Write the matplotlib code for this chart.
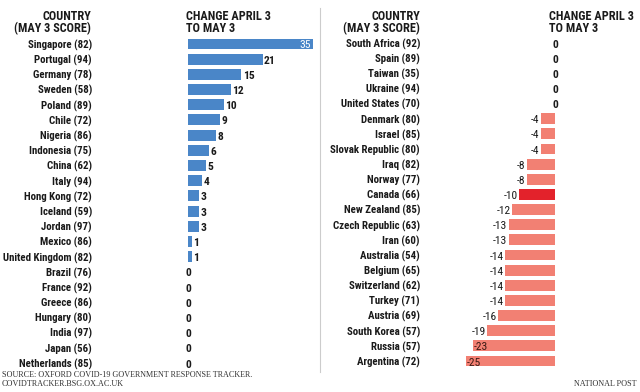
import matplotlib
matplotlib.use("Agg")
import matplotlib.pyplot as plt
from matplotlib import font_manager as fm

left_countries = ["Singapore (82)", "Portugal (94)", "Germany (78)", "Sweden (58)", "Poland (89)",
                  "Chile (72)", "Nigeria (86)", "Indonesia (75)", "China (62)", "Italy (94)",
                  "Hong Kong (72)", "Iceland (59)", "Jordan (97)", "Mexico (86)",
                  "United Kingdom (82)", "Brazil (76)", "France (92)", "Greece (86)",
                  "Hungary (80)", "India (97)", "Japan (56)", "Netherlands (85)"]
left_values = [35, 21, 15, 12, 10, 9, 8, 6, 5, 4, 3, 3, 3, 1, 1, 0, 0, 0, 0, 0, 0, 0]

right_countries = ["South Africa (92)", "Spain (89)", "Taiwan (35)", "Ukraine (94)",
                   "United States (70)", "Denmark (80)", "Israel (85)", "Slovak Republic (80)",
                   "Iraq (82)", "Norway (77)", "Canada (66)", "New Zealand (85)",
                   "Czech Republic (63)", "Iran (60)", "Australia (54)", "Belgium (65)",
                   "Switzerland (62)", "Turkey (71)", "Austria (69)", "South Korea (57)",
                   "Russia (57)", "Argentina (72)"]
right_values = [0, 0, 0, 0, 0, -4, -4, -4, -8, -8, -10, -12, -13, -13, -14, -14, -14, -14,
                -16, -19, -23, -25]
highlight = "Canada (66)"

header_country = "COUNTRY\n(MAY 3 SCORE)"
header_change = "CHANGE APRIL 3\nTO MAY 3"
source_text = "SOURCE: OXFORD COVID-19 GOVERNMENT RESPONSE TRACKER.\nCOVIDTRACKER.BSG.OX.AC.UK"
credit_text = "NATIONAL POST"

names = {f.name for f in fm.fontManager.ttflist}
cond = next((n for n in ["Roboto Condensed", "Barlow Semi Condensed",
                         "Barlow Condensed", "Asap Condensed"] if n in names), "DejaVu Sans")
FAM = [cond, "DejaVu Sans"]
SERIF = ["Liberation Serif", "DejaVu Serif"]

W, H = 640, 392
fig = plt.figure(figsize=(6.4, 3.92), dpi=100)
fig.patch.set_facecolor("white")
renderer = fig.canvas.get_renderer()

def fit_size(text, target_px, family, weight="normal", base=10.0):
    t = fig.text(0, 0, text, fontsize=base, family=family, fontweight=weight)
    w = t.get_window_extent(renderer=renderer).width
    t.remove()
    return base * target_px / w

LFS = fit_size("United Kingdom (82)", 90, FAM, "bold")
HFS = fit_size("CHANGE APRIL 3", 84, FAM, "bold")
SFS = fit_size("SOURCE: OXFORD COVID-19 GOVERNMENT RESPONSE TRACKER.", 254, SERIF)
VFS = LFS * 1.05

def px_axes(x0, x1, y0, y1):
    return fig.add_axes([x0 / W, 1 - y1 / H, (x1 - x0) / W, (y1 - y0) / H])

TXT = "#1a1a1a"
BLUE = "#4a86c8"
SALMON = "#f28073"
RED = "#e3222b"

# Left panel
nL = len(left_values)
spL = (363 - 44) / (nL - 1)
axL = px_axes(188, 318, 44 - spL / 2, 363 + spL / 2)
pxu = (312.5 - 188) / 35
axL.set_xlim(0, 130 / pxu)
axL.set_ylim(nL - 0.5, -0.5)
axL.barh(range(nL), left_values, height=0.72, color=BLUE)
for i, v in enumerate(left_values):
    if v == 0:
        axL.text(0, i + 0.1, "0", ha="center", va="center", fontsize=VFS, color=TXT,
                 family=FAM, fontweight="bold")
    elif v >= 30:
        axL.text(v - 0.4, i + 0.05, str(v), ha="right", va="center", fontsize=VFS,
                 color="white", family=FAM)
    else:
        axL.text(v + 0.4, i + 0.1, str(v), ha="left", va="center", fontsize=VFS,
                 color=TXT, family=FAM, fontweight="bold")
axL.set_yticks(range(nL))
axL.set_yticklabels(left_countries, family=FAM, fontweight="bold", fontsize=LFS, color=TXT)
axL.tick_params(axis="y", length=0, pad=(188 - 92) * 0.72)
axL.set_xticks([])
for s in axL.spines.values():
    s.set_visible(False)
axL.patch.set_alpha(0)

# Right panel
nR = len(right_values)
spR = (361 - 43) / (nR - 1)
axR = px_axes(430, 580, 43 - spR / 2, 361 + spR / 2)
pxuR = (555 - 466) / 25
axR.set_xlim(-(555 - 430) / pxuR, (580 - 555) / pxuR)
axR.set_ylim(nR - 0.5, -0.5)
colors = [RED if c == highlight else SALMON for c in right_countries]
axR.barh(range(nR), right_values, height=0.72, color=colors)
for i, v in enumerate(right_values):
    if v == 0:
        axR.text(0, i + 0.1, "0", ha="center", va="center", fontsize=VFS, color=TXT,
                 family=FAM, fontweight="bold")
    elif v <= -22:
        axR.text(v + 0.3, i + 0.1, str(v), ha="left", va="center", fontsize=VFS,
                 color="#3a1a14", family=FAM)
    else:
        axR.text(v - 0.4, i + 0.1, str(v), ha="right", va="center", fontsize=VFS,
                 color=TXT, family=FAM)
axR.set_yticks(range(nR))
axR.set_yticklabels(right_countries, family=FAM, fontweight="bold", fontsize=LFS, color=TXT)
axR.tick_params(axis="y", length=0, pad=(430 - 420) * 0.72)
axR.set_xticks([])
for s in axR.spines.values():
    s.set_visible(False)
axR.patch.set_alpha(0)

# Headers
for x, txt, ha in [(91, header_country, "right"), (186, header_change, "left"),
                   (420, header_country, "right"), (549, header_change, "left")]:
    fig.text(x / W, 1 - 10 / H, txt, ha=ha, va="top", fontsize=HFS, family=FAM,
             fontweight="bold", color=TXT, linespacing=0.92, multialignment=ha)

# Divider
fig.add_artist(plt.Line2D([320 / W, 320 / W], [1 - 8 / H, 1 - 372 / H], color="#cccccc", lw=0.8))

# Footer
fig.text(2 / W, 1 - 371 / H, source_text, ha="left", va="top", fontsize=SFS, family=SERIF,
         color="#333333", linespacing=1.1)
fig.text(637 / W, 1 - 384 / H, credit_text, ha="right", va="center", fontsize=SFS, family=SERIF,
         color="#333333")

fig.savefig("out.png", dpi=100, facecolor="white")
